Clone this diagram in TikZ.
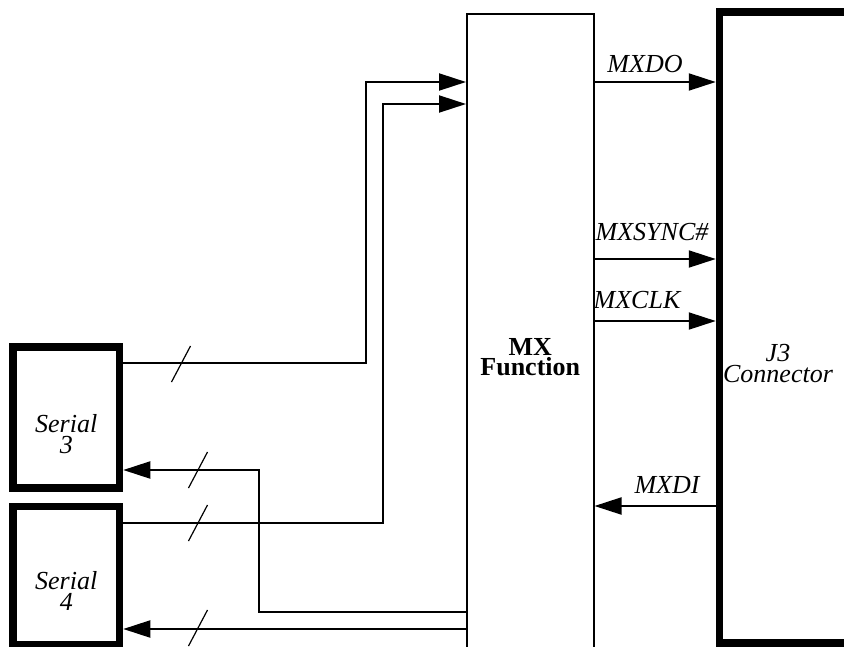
\documentclass[tikz,border=0pt]{standalone}
\usepackage{fontspec}
\setmainfont{Liberation Serif}
\usetikzlibrary{arrows.meta}

\begin{document}
\begin{tikzpicture}[x=1pt, y=-1pt, >={Triangle[length=27pt, width=17pt]},
    sig/.style={line width=2pt},
    thinbox/.style={draw, line width=2pt, inner sep=0pt},
    thickbox/.style={draw, line width=7.5pt, inner sep=0pt},
    lbl/.style={font=\fontsize{26}{21}\selectfont\itshape, align=center, inner sep=0pt}]
    \useasboundingbox (0,0) rectangle (844,646);
    \clip (0,0) rectangle (844,646);

    % blocks
    \node[thickbox, minimum width=106.5pt, minimum height=141pt] (ser3) at (66.25,417.5) {};
    \node[thickbox, minimum width=106.5pt, minimum height=138.5pt] (ser4) at (66.25,575.75) {};
    \node[thinbox, minimum width=126.5pt, minimum height=686pt, font=\fontsize{26}{20}\selectfont\bfseries, align=center] (mx) at (530.25,357) {MX\\Function};
    \node[thickbox, minimum width=140pt, minimum height=631pt] (j3) at (789.5,327.5) {};
    \node[lbl] (ser3txt) at ([yshift=-17pt]ser3.center) {Serial\\3};
    \node[lbl] (ser4txt) at ([yshift=-15.5pt]ser4.center) {Serial\\4};
    \node[lbl] (j3txt) at (778,364) {J3\\Connector};

    % serial ports
    \draw[sig, ->] (ser3.east |- 0,363) -- (366,363) |- (mx.west |- 0,82);
    \draw[sig, ->] (ser4.east |- 0,523) -- (383,523) |- (mx.west |- 0,104);
    \draw[sig, ->] (mx.west |- 0,612) -- (259,612) |- (ser3.east |- 0,470);
    \draw[sig, ->] (mx.west |- 0,629) -- (ser4.east |- 0,629);
    \foreach \x/\y in {181/364, 198/470, 198/523, 198/628}
        \draw[line width=1.2pt] (\x,\y) +(-9.5,18) -- +(9.5,-18);

    % J3 signals
    \draw[sig, ->] (mx.east |- 0,82) -- (j3.west |- 0,82);
    \draw[sig, ->] (mx.east |- 0,259) -- (j3.west |- 0,259);
    \draw[sig, ->] (mx.east |- 0,321) -- (j3.west |- 0,321);
    \draw[sig, ->] (j3.west |- 0,506) -- (mx.east |- 0,506);
    \node[lbl, anchor=base] (mxdo) at (645,72) {MXDO};
    \node[lbl, anchor=base] (mxsync) at (652,240) {MXSYNC\#};
    \node[lbl, anchor=base] (mxclk) at (637,308) {MXCLK};
    \node[lbl, anchor=base] (mxdi) at (667,493) {MXDI};
\end{tikzpicture}
\end{document}
